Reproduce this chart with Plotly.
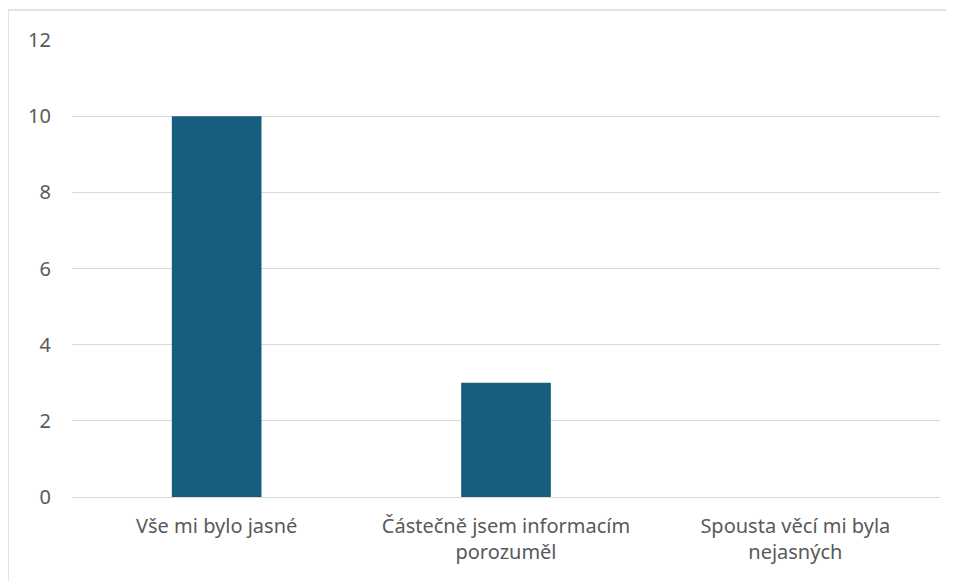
import plotly.graph_objects as go

categories = ["Vše mi bylo jasné", "Částečně jsem informacím<br>porozuměl", "Spousta věcí mi byla<br>nejasných"]
values = [10, 3, 0]
y_ticks = [0, 2, 4, 6, 8, 10, 12]

BAR = "#175E7E"
GRID = "#D9D9D9"
TEXT = "#595959"
FONT = "Noto Sans"

fig = go.Figure(go.Bar(x=categories, y=values, marker=dict(color=BAR, line=dict(width=0)), width=0.31))

fig.update_layout(
    width=946, height=573,
    margin=dict(l=64, r=14, t=32, b=84),
    paper_bgcolor="white", plot_bgcolor="white",
    showlegend=False,
    font=dict(family=FONT, size=20, color=TEXT),
    xaxis=dict(showgrid=False, showline=False, zeroline=False, ticks="", tickfont=dict(size=20, color=TEXT), ticklabelstandoff=15),
    yaxis=dict(range=[0, 12], tickvals=y_ticks, showgrid=True, gridcolor=GRID, gridwidth=1.3,
               zeroline=True, zerolinecolor=GRID, zerolinewidth=1.3, showline=False,
               tickfont=dict(size=20, color=TEXT), ticklabelstandoff=20),
    shapes=[dict(type="rect", xref="paper", yref="paper", x0=-0.0737, x1=1.2, y0=-0.5, y1=1.0656,
                 line=dict(color=GRID, width=1.5), fillcolor="rgba(0,0,0,0)", layer="below")],
)

fig.write_html("out.html")
